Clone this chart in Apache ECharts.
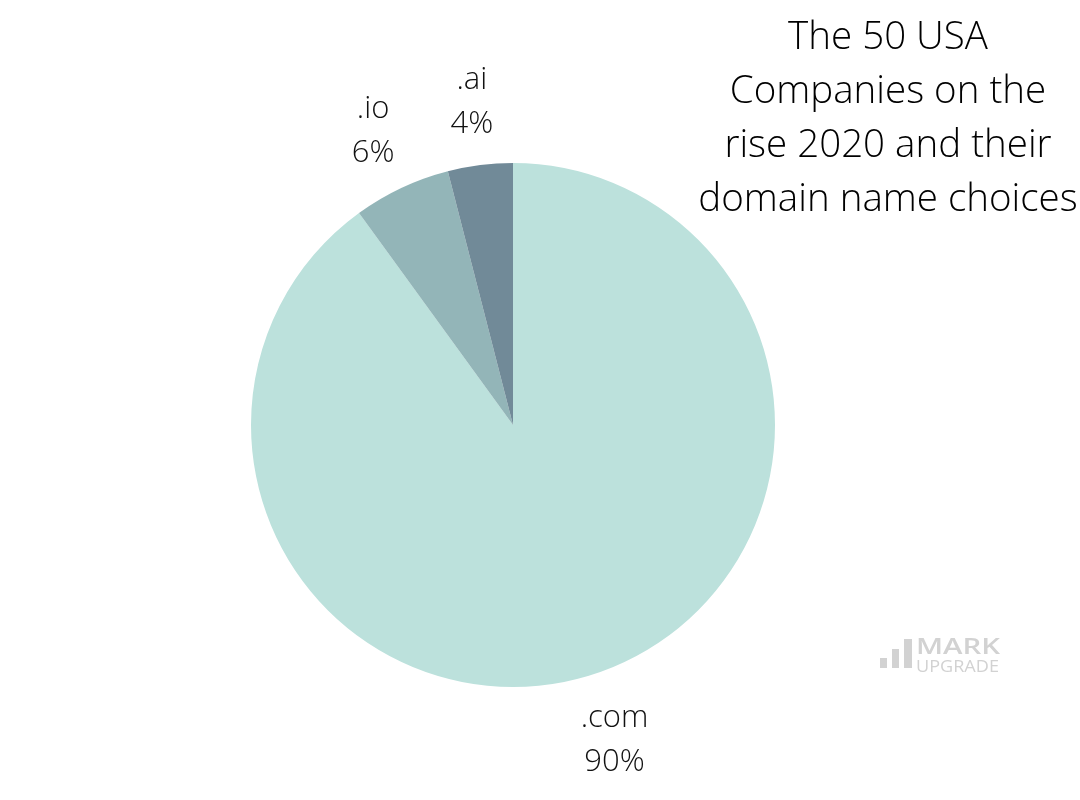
<!DOCTYPE html>
<html>
<head>
<meta charset="utf-8">
<script src="https://cdn.jsdelivr.net/npm/echarts@6/dist/echarts.min.js"></script>
<style>html,body{margin:0;padding:0;background:#fff}#c{width:1080px;height:800px}</style>
</head>
<body>
<div id="c"></div>
<script>
const categories = ['.com', '.io', '.ai'];
const shares = [90, 6, 4];
const colors = ['#bce1dc', '#93b5b8', '#718a98'];
const titleText = 'The 50 USA\nCompanies on the\nrise 2020 and their\ndomain name choices';

const chart = echarts.init(document.getElementById('c'));
const data = categories.map((n, i) => ({ name: n, value: shares[i], itemStyle: { color: colors[i] } }));
const font = "'Open Sans', sans-serif";
chart.setOption({
  animation: false,
  title: {
    text: titleText,
    left: 888, top: 11, textAlign: 'center', padding: 0,
    textStyle: { fontFamily: font, fontWeight: 300, fontSize: 38.5, lineHeight: 54, color: '#000', align: 'center' }
  },
  series: [
    {
      type: 'pie', center: [513, 425], radius: [0, 262], startAngle: 90, clockwise: true,
      label: { show: false }, labelLine: { show: false }, silent: true,
      data: data
    },
    {
      type: 'pie', center: [513, 425], radius: [298, 353], startAngle: 90, clockwise: true,
      silent: true,
      itemStyle: { color: 'rgba(0,0,0,0)' },
      label: {
        show: true, position: 'inside', formatter: '{b}\n{c}%', offset: [0, 3],
        fontFamily: font, fontWeight: 300, fontSize: 31, lineHeight: 44, color: '#111', align: 'center'
      },
      labelLine: { show: false },
      data: categories.map((n, i) => ({ name: n, value: shares[i], itemStyle: { color: 'rgba(0,0,0,0)' } }))
    }
  ],
  graphic: [
    { type: 'rect', shape: { x: 880, y: 658, width: 7, height: 10 }, style: { fill: '#d2d2d2' } },
    { type: 'rect', shape: { x: 892, y: 649, width: 7, height: 19 }, style: { fill: '#d2d2d2' } },
    { type: 'rect', shape: { x: 904, y: 639, width: 8, height: 29 }, style: { fill: '#d2d2d2' } },
    { type: 'text', x: 916, y: 638, scaleX: 1.4, style: { text: 'MARK', fill: '#d2d2d2', font: "600 21px 'Open Sans', sans-serif", textVerticalAlign: 'top' } },
    { type: 'text', x: 916, y: 659, scaleX: 1.13, style: { text: 'UPGRADE', fill: '#d2d2d2', font: "500 16px 'Open Sans', sans-serif", textVerticalAlign: 'top' } }
  ]
});
</script>
</body>
</html>
